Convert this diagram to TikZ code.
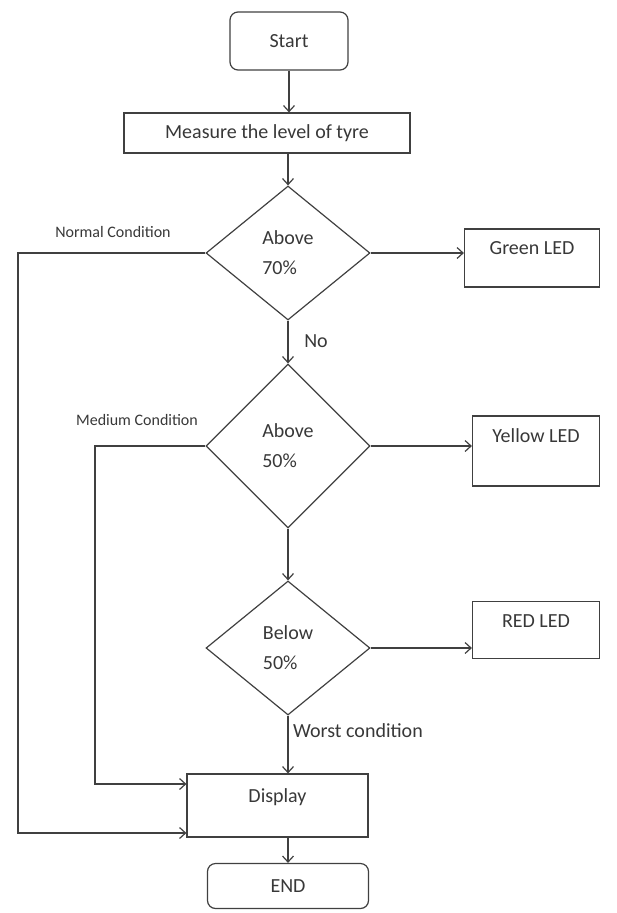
\documentclass[tikz,border=0pt]{standalone}
\usepackage{fontspec}
\setmainfont{Carlito}
\usetikzlibrary{shapes.geometric,arrows.meta}

\begin{document}
\begin{tikzpicture}[x=1pt,y=-1pt,
  every node/.style={text=black!78,font=\fontsize{20}{30}\selectfont},
  box/.style={draw=black!75,line width=1.2pt,rectangle,align=center},
  term/.style={box,rounded corners=8pt},
  decide/.style={draw=black!75,line width=1.2pt,diamond,align=left,inner sep=0pt,minimum width=164,minimum height=134},
  arr/.style={draw=black!75,line width=1.2pt,-{Straight Barb[length=6pt,width=11pt]}},
  cond/.style={font=\fontsize{16}{18}\selectfont}]

\useasboundingbox (0,0) rectangle (616,913);

\node[term,minimum width=118,minimum height=58] (start) at (289,41) {Start};
\node[box,minimum width=286,minimum height=40] (measure) at (267,133) {Measure the level of tyre};
\node[decide] (d1) at (288,253) {Above\\70\%};
\node[box,minimum width=135,minimum height=58,text depth=19pt] (green) at (532,258) {Green LED};
\node[decide,minimum height=164] (d2) at (288,446) {Above\\50\%};
\node[box,minimum width=127,minimum height=70,text depth=31pt] (yellow) at (536,451) {Yellow LED};
\node[decide,minimum height=134] (d3) at (288,648) {Below\\50\%};
\node[box,minimum width=127,minimum height=57,text depth=17pt] (red) at (536,630) {RED LED};
\node[box,minimum width=181,minimum height=63,text depth=19pt] (display) at (277.5,805.5) {Display};
\node[term,minimum width=161,minimum height=45] (end) at (288,886) {END};

\node[cond] (normal) at (113,232) {Normal Condition};
\node[cond] (medium) at (137,420) {Medium Condition};
\node (no) at (316,341) {No};
\node (worst) at (358,731) {Worst condition};

\coordinate (n1) at (18,253);
\coordinate (m1) at (95,446);

\draw[arr] (start) -- (start |- measure.north);
\draw[arr] (d1.north |- measure.south) -- (d1.north);
\draw[arr] (d1.east) -- (d1.east -| green.west);
\draw[arr] (d1.south) -- (d2.north);
\draw[arr] (d2.east) -- (d2.east -| yellow.west);
\draw[arr] (d2.south) -- (d3.north);
\draw[arr] (d3.east) -- (d3.east -| red.west);
\draw[arr] (d3.south) -- (d3.south |- display.north);
\draw[arr] (end.north |- display.south) -- (end.north);
\draw[arr] (d2.west) -- (m1) |- ([yshift=21.5pt]display.west);
\draw[arr] (d1.west) -- (n1) |- ([yshift=-27.5pt]display.west);

\end{tikzpicture}
\end{document}
